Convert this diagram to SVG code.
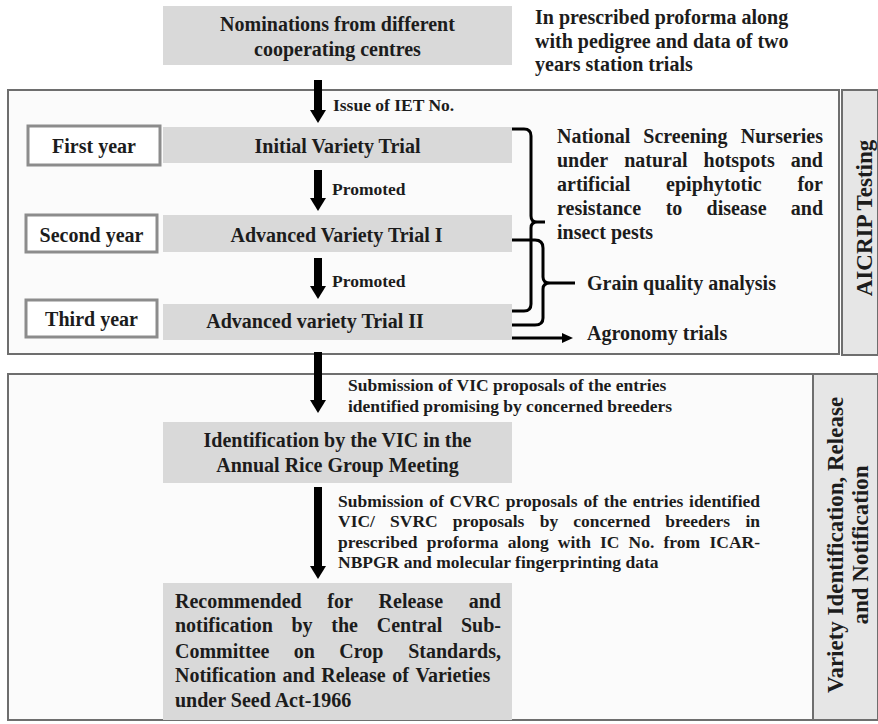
<svg xmlns="http://www.w3.org/2000/svg" width="878" height="724" viewBox="0 0 878 724">
<defs>
<style>
text{font-family:"Liberation Serif","Times New Roman",serif;font-weight:bold;fill:#1c1c1c}
.b{font-size:20px}
.s{font-size:17.5px}
.v{font-size:23px}
.c{text-anchor:middle}
.gray{fill:#d9d9d9}
.outer{fill:#fbfbfb;stroke:#6e6e6e;stroke-width:2}
.side{fill:#e6e6e6;stroke:#6e6e6e;stroke-width:2}
.year{fill:#ffffff;stroke:#8c8c8c;stroke-width:3}
.arr{stroke:#000;stroke-width:8;fill:none}
.brace{stroke:#000;stroke-width:3;fill:none;stroke-linejoin:round}
</style>
<marker id="head" markerUnits="userSpaceOnUse" markerWidth="14" markerHeight="18" refX="2" refY="8" orient="auto">
<path d="M0,0 L13,8 L0,16 z" fill="#000"/>
</marker>
<marker id="headS" markerUnits="userSpaceOnUse" markerWidth="12" markerHeight="12" refX="1" refY="5" orient="auto">
<path d="M0,0 L11,5 L0,10 z" fill="#000"/>
</marker>
</defs>
<rect width="878" height="724" fill="#ffffff"/>

<g id="panel-aicrip">
<rect class="outer" x="8" y="90" width="831" height="264"/>
<rect class="side" x="842" y="90" width="36" height="265"/>
<text class="v c" transform="translate(872,218) rotate(-90)">AICRIP Testing</text>
</g>

<g id="panel-release">
<rect class="outer" x="8" y="374" width="805" height="346"/>
<rect class="side" x="813" y="374" width="65" height="346"/>
<text class="v c" transform="translate(843,545) rotate(-90)">Variety Identification, Release</text>
<text class="v c" transform="translate(868,545) rotate(-90)">and Notification</text>
</g>

<g id="nominations">
<rect class="gray" x="163" y="6" width="349" height="59"/>
<text class="b c" x="337.5" y="31">Nominations from different</text>
<text class="b c" x="337.5" y="56">cooperating centres</text>
</g>

<g id="note-proforma">
<text class="b" x="535" y="24">In prescribed proforma along</text>
<text class="b" x="535" y="48">with pedigree and data of two</text>
<text class="b" x="535" y="71">years station trials</text>
</g>

<g id="first-year">
<rect class="year" x="28" y="126" width="132" height="39"/>
<text class="b c" x="94" y="153">First year</text>
</g>
<g id="second-year">
<rect class="year" x="26" y="215" width="131" height="37"/>
<text class="b c" x="91.5" y="242">Second year</text>
</g>
<g id="third-year">
<rect class="year" x="26" y="300" width="131" height="37"/>
<text class="b c" x="91.5" y="326">Third year</text>
</g>

<g id="ivt">
<rect class="gray" x="163" y="127" width="349" height="36"/>
<text class="b c" x="337.5" y="153">Initial Variety Trial</text>
</g>
<g id="avt1">
<rect class="gray" x="163" y="215" width="349" height="37"/>
<text class="b c" x="336.5" y="242">Advanced Variety Trial I</text>
</g>
<g id="avt2">
<rect class="gray" x="163" y="304" width="349" height="36"/>
<text class="b c" x="315" y="328">Advanced variety Trial II</text>
</g>

<g id="nsn">
<text class="b"><tspan x="557" y="143">National</tspan><tspan x="643.35" y="143">Screening</tspan><tspan x="740.8" y="143">Nurseries</tspan></text>
<text class="b"><tspan x="557" y="167">under</tspan><tspan x="624.18" y="167">natural</tspan><tspan x="703.58" y="167">hotspots</tspan><tspan x="790.76" y="167">and</tspan></text>
<text class="b"><tspan x="557" y="191">artificial</tspan><tspan x="666.11" y="191">epiphytotic</tspan><tspan x="797.46" y="191">for</tspan></text>
<text class="b"><tspan x="557" y="215">resistance</tspan><tspan x="665.65" y="215">to</tspan><tspan x="706.54" y="215">disease</tspan><tspan x="790.77" y="215">and</tspan></text>
<text class="b" x="557" y="239">insect pests</text>
</g>

<g id="grain">
<text class="b" x="587" y="290">Grain quality analysis</text>
</g>
<g id="agronomy">
<text class="b" x="587" y="340">Agronomy trials</text>
</g>

<g id="identification">
<rect class="gray" x="163" y="422" width="349" height="61"/>
<text class="b c" x="337.5" y="447">Identification by the VIC in the</text>
<text class="b c" x="337.5" y="472">Annual Rice Group Meeting</text>
</g>

<g id="recommended">
<rect class="gray" x="163" y="583" width="349" height="137"/>
<text class="b"><tspan x="175" y="608">Recommended</tspan><tspan x="327.36" y="608">for</tspan><tspan x="378.62" y="608">Release</tspan><tspan x="468.76" y="608">and</tspan></text>
<text class="b"><tspan x="175" y="632">notification</tspan><tspan x="291.5" y="632">by</tspan><tspan x="331.34" y="632">the</tspan><tspan x="376.72" y="632">Central</tspan><tspan x="460.98" y="632">Sub-</tspan></text>
<text class="b"><tspan x="175" y="658">Committee</tspan><tspan x="293.81" y="658">on</tspan><tspan x="339.34" y="658">Crop</tspan><tspan x="408.19" y="658">Standards,</tspan></text>
<text class="b"><tspan x="175" y="682">Notification</tspan><tspan x="282.59" y="682">and</tspan><tspan x="321.32" y="682">Release</tspan><tspan x="392.23" y="682">of</tspan><tspan x="415.38" y="682">Varieties</tspan></text>
<text class="b" x="175" y="707">under Seed Act-1966</text>
</g>

<g id="connectors">
<line class="arr" x1="318" y1="80" x2="318" y2="112" marker-end="url(#head)"/>
<line class="arr" x1="318" y1="170" x2="318" y2="200" marker-end="url(#head)"/>
<line class="arr" x1="318" y1="258" x2="318" y2="288" marker-end="url(#head)"/>
<line class="arr" x1="318" y1="352" x2="318" y2="402" marker-end="url(#head)"/>
<line class="arr" x1="318" y1="487" x2="318" y2="568" marker-end="url(#head)"/>
<path class="brace" d="M512,129 H524 Q531,129 531,136 V216 Q531,222 537,222 H545 M537,222 Q531,222 531,228 V304 Q531,311 524,311 H512"/>
<path class="brace" d="M512,240 H535 Q543,240 543,248 V277 Q543,283 550,283 H575 M550,283 Q543,283 543,289 V318 Q543,325 535,325 H512"/>
<line x1="512" y1="338" x2="563" y2="338" stroke="#000" stroke-width="3" marker-end="url(#headS)"/>
<text class="s" x="333" y="111">Issue of IET No.</text>
<text class="s" x="332" y="195">Promoted</text>
<text class="s" x="332" y="287">Promoted</text>
<text class="s" x="348" y="391">Submission of VIC proposals of the entries</text>
<text class="s" x="348" y="412">identified promising by concerned breeders</text>
<text class="s"><tspan x="338" y="507">Submission</tspan><tspan x="429.29" y="507">of</tspan><tspan x="449.57" y="507">CVRC</tspan><tspan x="505.81" y="507">proposals</tspan><tspan x="583.47" y="507">of</tspan><tspan x="603.75" y="507">the</tspan><tspan x="632.78" y="507">entries</tspan><tspan x="689.02" y="507">identified</tspan></text>
<text class="s"><tspan x="338" y="527">VIC/</tspan><tspan x="390.02" y="527">SVRC</tspan><tspan x="452.74" y="527">proposals</tspan><tspan x="539.78" y="527">by</tspan><tspan x="573.34" y="527">concerned</tspan><tspan x="665.21" y="527">breeders</tspan><tspan x="745.41" y="527">in</tspan></text>
<text class="s"><tspan x="338" y="548">prescribed</tspan><tspan x="426.82" y="548">proforma</tspan><tspan x="507.86" y="548">along</tspan><tspan x="557.82" y="548">with</tspan><tspan x="599.99" y="548">IC</tspan><tspan x="628.54" y="548">No.</tspan><tspan x="663.41" y="548">from</tspan><tspan x="709.45" y="548">ICAR-</tspan></text>
<text class="s" x="338" y="568">NBPGR and molecular fingerprinting data</text>
</g>
</svg>
